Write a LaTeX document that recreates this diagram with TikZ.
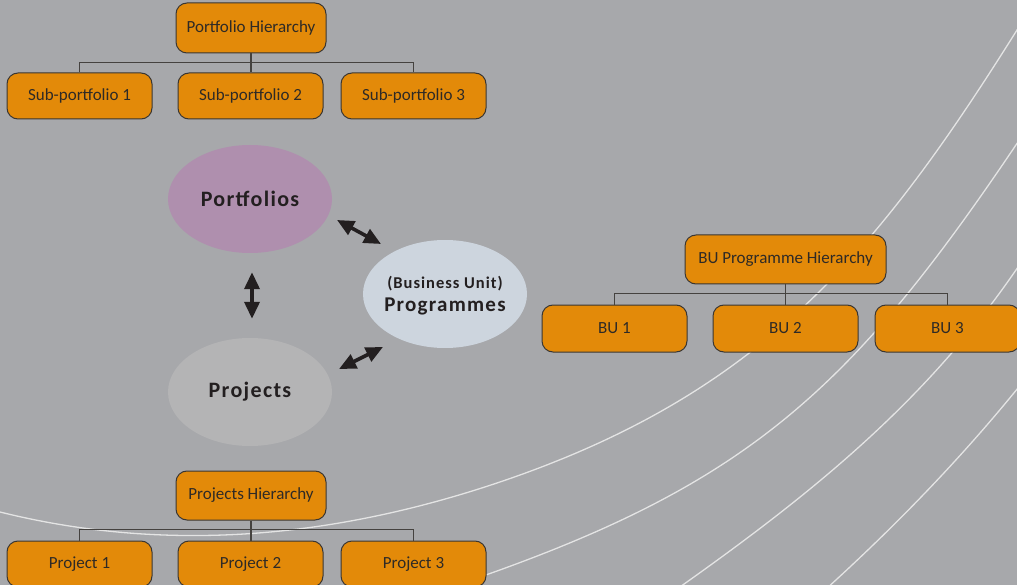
\documentclass[tikz,border=0pt]{standalone}
\usepackage{fontspec}
\setmainfont{Carlito}
\newfontfamily\bubblefont{Carlito}[LetterSpace=6]
\usetikzlibrary{shapes.geometric,arrows.meta}

\definecolor{canvas}{HTML}{A7A8AB}
\definecolor{swoosh}{HTML}{E4E4E4}
\definecolor{boxfill}{HTML}{E38A09}
\definecolor{boxline}{HTML}{3A3632}
\definecolor{boxtext}{HTML}{2E2A26}
\definecolor{treeline}{HTML}{45423F}
\definecolor{portfill}{HTML}{AF8FAE}
\definecolor{projfill}{HTML}{B4B4B5}
\definecolor{progfill}{HTML}{CDD5DE}
\definecolor{arrowink}{HTML}{231F20}

\tikzset{
  x=1pt, y=-1pt,
  orgbox/.style={draw=boxline, fill=boxfill, line width=1pt,
    rounded corners=11pt, minimum width=145pt, minimum height=46pt,
    inner sep=0pt, text=boxtext, font=\fontsize{17}{19}\selectfont},
  tree/.style={draw=treeline, line width=1.2pt},
  bubble/.style={ellipse, draw=none, inner sep=0pt,
    minimum width=164pt, minimum height=108pt},
  bubbletext/.style={text=arrowink, align=center,
    font=\bubblefont\bfseries\fontsize{22}{24}\selectfont},
  swooshline/.style={draw=swoosh, line width=1.3pt},
  twoway/.style={draw=arrowink, line width=3.6pt,
    {Triangle[length=17pt,width=15pt]}-{Triangle[length=17pt,width=15pt]}}
}

\begin{document}
\begin{tikzpicture}
  \useasboundingbox (0,0) rectangle (1017,585);
  \clip (0,0) rectangle (1017,585);
  \fill[canvas] (0,0) rectangle (1017,585);

  % sweeping background lines
  \draw[swooshline] (-30,504) -- (0,512)
    .. controls (173,555) and (347,537) .. (520,475)
    .. controls (765,387) and (879,250) .. (1017,30) -- (1030,9);
  \draw[swooshline] (430,594)
    .. controls (744,491) and (847,399) .. (1030,124);
  \draw[swooshline] (660,601)
    .. controls (807,498) and (932,400) .. (1030,249);
  \draw[swooshline] (815,599)
    .. controls (893,529) and (965,455) .. (1030,373);

  % portfolio hierarchy
  \node[orgbox, minimum width=150pt, minimum height=50pt] (ph) at (251,28) {Portfolio Hierarchy};
  \node[orgbox] (sp1) at (79.5,96) {Sub-portfolio 1};
  \node[orgbox] (sp2) at (250.5,96) {Sub-portfolio 2};
  \node[orgbox] (sp3) at (413.5,96) {Sub-portfolio 3};
  \draw[tree] (ph.south) -- (ph.south |- sp2.north);
  \draw[tree] (sp1.north) -- ++(0,-10) -| (sp3.north);

  % business unit programme hierarchy
  \node[orgbox, minimum width=201pt, minimum height=49pt] (bh) at (785.5,259.5) {BU Programme Hierarchy};
  \node[orgbox, minimum height=47pt] (bu1) at (614.5,328.5) {BU 1};
  \node[orgbox, minimum height=47pt] (bu2) at (785.5,328.5) {BU 2};
  \node[orgbox, minimum height=47pt] (bu3) at (947.5,328.5) {BU 3};
  \draw[tree] (bh.south) -- (bh.south |- bu2.north);
  \draw[tree] (bu1.north) -- ++(0,-11) -| (bu3.north);

  % projects hierarchy
  \node[orgbox, minimum width=150pt, minimum height=49pt] (jh) at (251,495.5) {Projects Hierarchy};
  \node[orgbox] (pj1) at (79.5,564) {Project 1};
  \node[orgbox] (pj2) at (250.5,564) {Project 2};
  \node[orgbox] (pj3) at (413.5,564) {Project 3};
  \draw[tree] (jh.south) -- (jh.south |- pj2.north);
  \draw[tree] (pj1.north) -- ++(0,-11) -| (pj3.north);

  % the three bubbles
  \node[bubble, fill=portfill, label={[bubbletext]center:Portfolios}] (port) at (250,199) {};
  \node[bubble, fill=projfill, label={[bubbletext]center:Projects}] (proj) at (250,392) {};
  \node[bubble, fill=progfill,
    label={[bubbletext, yshift=-2pt]center:{{\fontsize{16.5}{24}\selectfont (Business Unit)}\\[-1pt]{\fontsize{21}{24}\selectfont Programmes}}}] (prog) at (445,294) {};

  % two-way links
  \coordinate (pp1) at (337,220);
  \coordinate (pp2) at (381,244);
  \coordinate (jp1) at (339,369);
  \coordinate (jp2) at (383,347);
  \draw[twoway] ([shift={(2,19)}]port.south) -- ([shift={(2,-19)}]proj.north);
  \draw[twoway] (pp1) -- (pp2);
  \draw[twoway] (jp1) -- (jp2);
\end{tikzpicture}
\end{document}
